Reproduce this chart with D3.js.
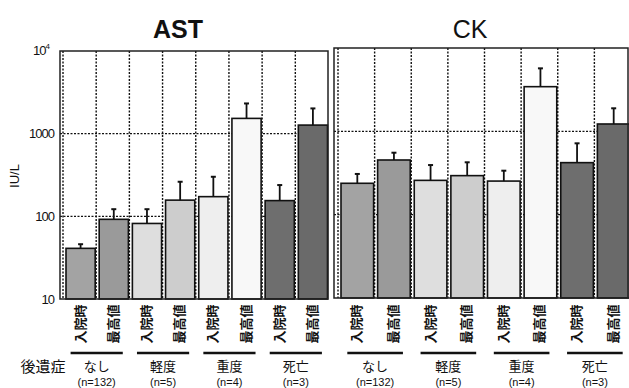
<!DOCTYPE html>
<html>
<head>
<meta charset="utf-8">
<script src="https://cdn.jsdelivr.net/npm/d3@7"></script>
<style>
  body { margin: 0; background: #fff; }
  text { font-family: "Liberation Sans", Arial, sans-serif; fill: #111; }
  .jp { font-family: "Noto Sans CJK JP", sans-serif; }
</style>
</head>
<body>
<div id="chart"></div>
<script>
// categories
const groups = ["なし", "軽度", "重度", "死亡"];
const groupN = ["(n=132)", "(n=5)", "(n=4)", "(n=3)"];
const times = ["入院時", "最高値"];

// AST, IU/L (mean and top of error bar)
const astMean = [41, 92, 82, 157, 173, 1530, 155, 1270];
const astUpper = [46, 122, 122, 262, 301, 2320, 239, 2020];

// CK, IU/L
const ckMean = [238, 453, 258, 294, 253, 3435, 421, 1225];
const ckUpper = [308, 554, 394, 425, 337, 5700, 718, 1890];

const yTicks = [10, 100, 1000, 10000];

const fills = ["#a3a3a3", "#9a9a9a", "#dedede", "#cdcdcd", "#eeeeee", "#f8f8f8", "#6e6e6e", "#6a6a6a"];

const W = 629, H = 388;
const svg = d3.select("#chart").append("svg")
    .attr("width", W)
    .attr("height", H);

// build rows: one per bar
function rows(mean, upper) {
    let out = [];
    groups.forEach((g, gi) => {
        times.forEach((t, ti) => {
            let i = gi * 2 + ti;
            out.push({key: g + t, group: g, gi: gi, time: t, value: mean[i], upper: upper[i], i: i});
        });
    });
    return out;
}

const panels = [
    {title: "AST", weight: "bold", data: rows(astMean, astUpper), frame: [60, 328], slots: [63, 328.5], y: [299, 51], titleX: 178},
    {title: "CK", weight: "normal", data: rows(ckMean, ckUpper), frame: [334, 628], slots: [338, 631], y: [298, 48], titleX: 470}
];

panels.forEach((p, pi) => {
    let g = svg.append("g");

    let x = d3.scaleBand()
        .domain(p.data.map(d => d.key))
        .range(p.slots)
        .padding(0);

    let y = d3.scaleLog()
        .domain([10, 10000])
        .range(p.y);

    let top = y(10000), bottom = y(10);

    // dotted grid
    g.selectAll(".hgrid")
        .data([100, 1000])
        .enter().append("line")
        .attr("x1", p.frame[0]).attr("x2", p.frame[1])
        .attr("y1", d => y(d)).attr("y2", d => y(d))
        .attr("stroke", "#111").attr("stroke-width", 1.2)
        .attr("stroke-dasharray", "2,1.5");

    g.selectAll(".vgrid")
        .data(p.data)
        .enter().append("line")
        .attr("x1", d => x(d.key)).attr("x2", d => x(d.key))
        .attr("y1", top).attr("y2", bottom)
        .attr("stroke", "#111").attr("stroke-width", 1.4)
        .attr("stroke-dasharray", "2,1.5");

    // bars
    g.selectAll(".bar")
        .data(p.data)
        .enter().append("rect")
        .attr("x", d => x(d.key) + 3)
        .attr("width", x.bandwidth() - 4)
        .attr("y", d => y(d.value))
        .attr("height", d => bottom - y(d.value))
        .attr("fill", d => fills[d.i])
        .attr("stroke", "#111")
        .attr("stroke-width", 1.6);

    // error bars
    let cx = d => x(d.key) + 1 + x.bandwidth() / 2;
    g.selectAll(".err")
        .data(p.data)
        .enter().append("line")
        .attr("x1", cx).attr("x2", cx)
        .attr("y1", d => y(d.value)).attr("y2", d => y(d.upper))
        .attr("stroke", "#111").attr("stroke-width", 1.8);

    g.selectAll(".cap")
        .data(p.data)
        .enter().append("line")
        .attr("x1", d => cx(d) - 2.5).attr("x2", d => cx(d) + 2.5)
        .attr("y1", d => y(d.upper)).attr("y2", d => y(d.upper))
        .attr("stroke", "#111").attr("stroke-width", 2);

    // frame
    g.append("rect")
        .attr("x", p.frame[0]).attr("y", top)
        .attr("width", p.frame[1] - p.frame[0])
        .attr("height", bottom - top)
        .attr("fill", "none")
        .attr("stroke", "#222").attr("stroke-width", 1.5);

    // title
    g.append("text")
        .attr("x", p.titleX).attr("y", 38)
        .attr("text-anchor", "middle")
        .attr("font-size", 25)
        .attr("font-weight", p.weight)
        .text(p.title);

    // rotated time labels
    g.selectAll(".tlab")
        .data(p.data)
        .enter().append("text")
        .attr("class", "jp")
        .attr("transform", d => "translate(" + (cx(d) + 4) + ",324) rotate(-90)")
        .attr("text-anchor", "middle")
        .attr("font-size", 13)
        .attr("font-weight", "bold")
        .text(d => d.time);

    // group underline + labels
    groups.forEach((gr, gi) => {
        let a = p.data[gi * 2], b = p.data[gi * 2 + 1];
        let x1 = cx(a) - 10, x2 = cx(b) + 9;
        g.append("line")
            .attr("x1", x1).attr("x2", x2)
            .attr("y1", 353).attr("y2", 353)
            .attr("stroke", "#111").attr("stroke-width", 2.5);
        let mid = (x1 + x2) / 2;
        g.append("text")
            .attr("class", "jp")
            .attr("x", mid).attr("y", 371)
            .attr("text-anchor", "middle")
            .attr("font-size", 13)
            .text(gr);
        g.append("text")
            .attr("x", mid).attr("y", 386)
            .attr("text-anchor", "middle")
            .attr("font-size", 11)
            .text(groupN[gi]);
    });

    // y axis labels on left panel only
    if (pi === 0) {
        g.selectAll(".ytick")
            .data(yTicks.slice(0, 3))
            .enter().append("text")
            .attr("x", 54).attr("y", d => y(d) + 4.5)
            .attr("text-anchor", "end")
            .attr("font-size", 13)
            .attr("letter-spacing", -1)
            .text(d => d3.format("d")(d));

        let t4 = g.append("text")
            .attr("x", 49).attr("y", y(10000) + 4)
            .attr("text-anchor", "end")
            .attr("font-size", 13)
            .attr("letter-spacing", -1);
        t4.append("tspan").text("10");
        t4.append("tspan").attr("dy", -6).attr("font-size", 8).text("4");

        g.append("text")
            .attr("transform", "translate(19,176) rotate(-90)")
            .attr("text-anchor", "middle")
            .attr("font-size", 13)
            .text("IU/L");
    }
});

svg.append("text")
    .attr("class", "jp")
    .attr("x", 43).attr("y", 372)
    .attr("text-anchor", "middle")
    .attr("font-size", 15)
    .text("後遺症");
</script>
</body>
</html>
